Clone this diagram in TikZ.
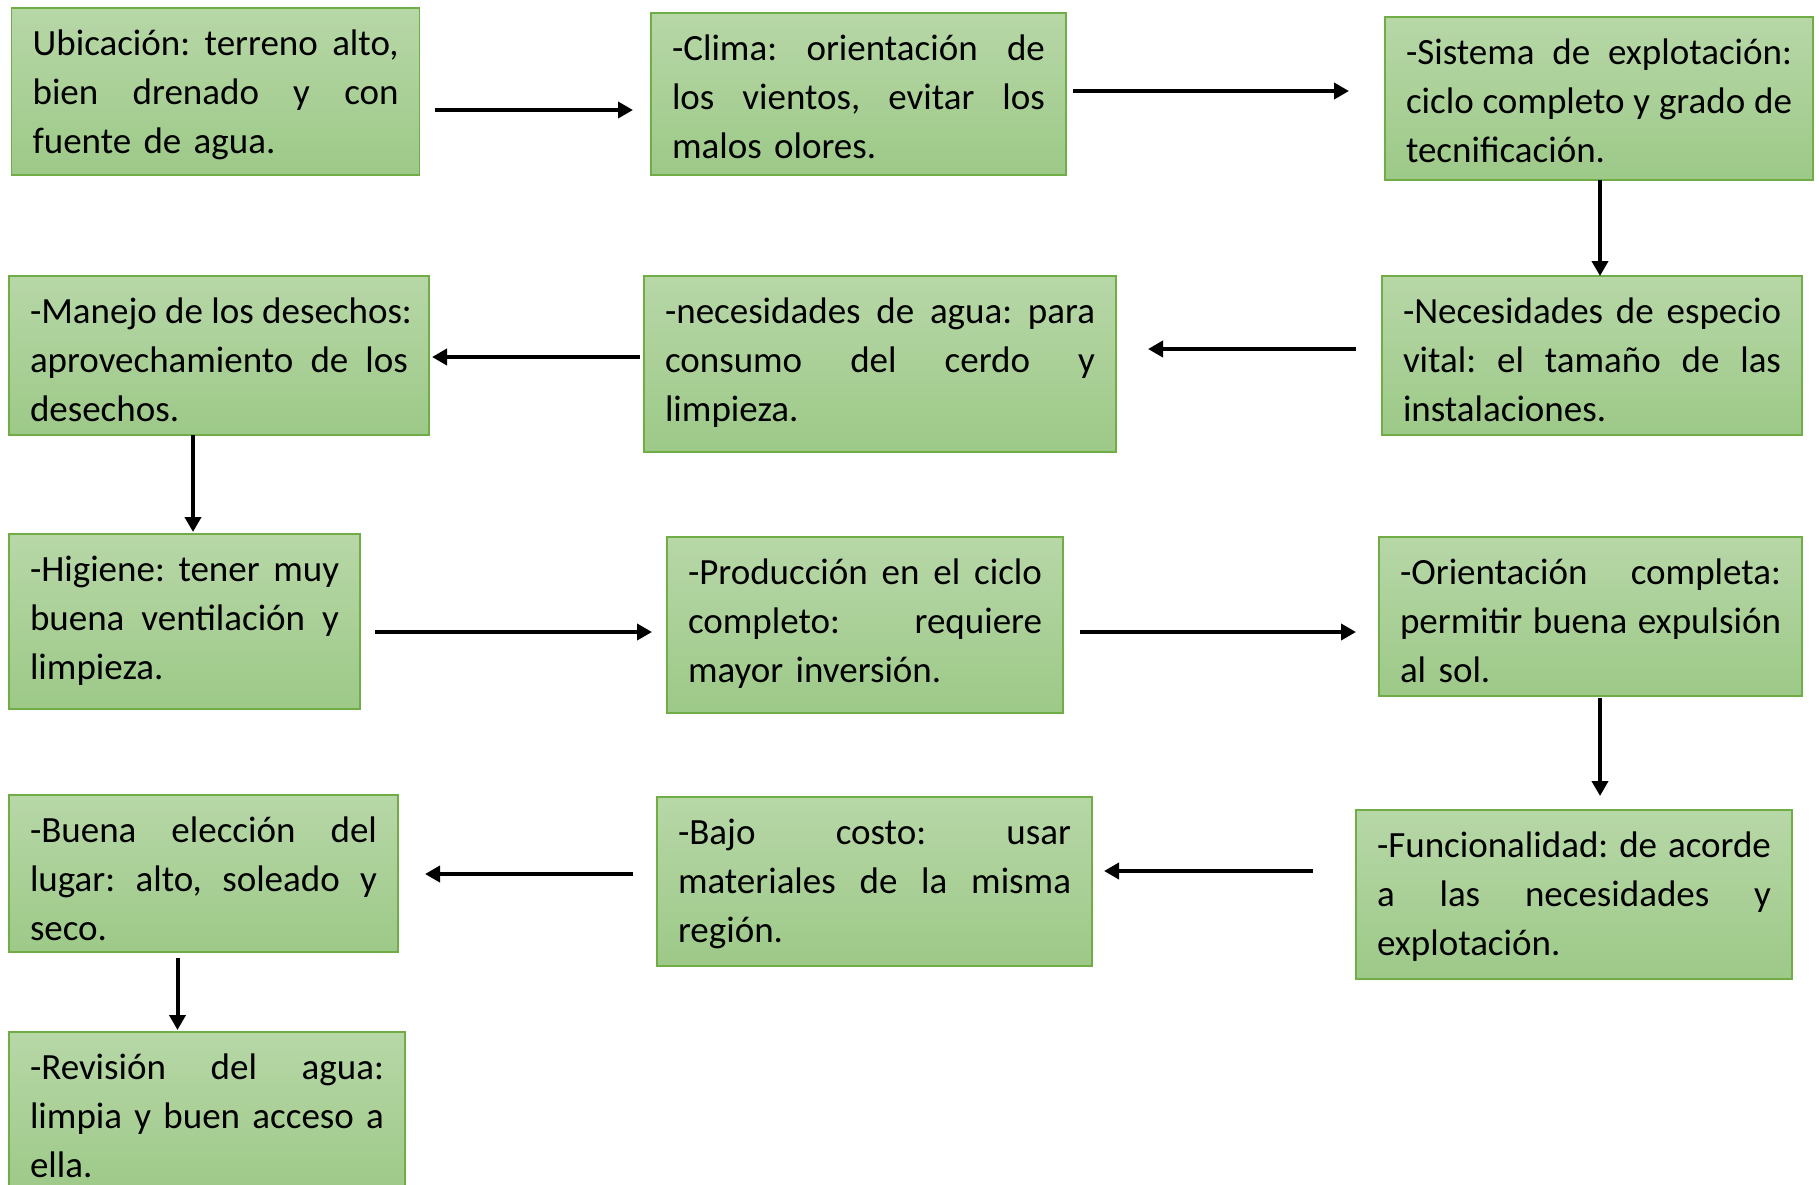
\documentclass[tikz,border=0pt]{standalone}
\usepackage{fontspec}
\setmainfont{Carlito}
\usetikzlibrary{arrows.meta}
\definecolor{gtop}{RGB}{183,215,167}
\definecolor{gbot}{RGB}{157,201,136}
\definecolor{bdr}{RGB}{112,173,71}
\def\W{300pt}
\newcommand\jl[1]{\makebox[\W][s]{\spaceskip=0.226em plus 1fil\relax\xspaceskip=\spaceskip #1}}
\frenchspacing
\begin{document}
\begin{tikzpicture}[x=1pt,y=-1pt,
  bx/.style={rectangle, anchor=north west, draw=bdr, line width=1.3pt, top color=gtop, bottom color=gbot,
    inner xsep=21pt, inner ysep=0pt, outer sep=0pt, text height=47.5pt, align=left,
    font=\fontsize{37}{49}\selectfont\frenchspacing},
  tw/.style={text width=#1pt, execute at begin node={\def\W{#1pt}}},
  arr/.style={-{Triangle[length=15pt,width=16pt]}, line width=4pt}]
\useasboundingbox (0,0) rectangle (1819,1184);
\clip (0,0) rectangle (1819,1184);
\node[bx, tw=366, text depth=119.5pt] (b1) at (11.6,8) {\jl{Ubicación: terreno alto,}\\\jl{bien drenado y con}\\fuente de agua.};
\node[bx, tw=373, text depth=114.5pt] (b2) at (651,13) {\jl{-Clima: orientación de}\\\jl{los vientos, evitar los}\\malos olores.};
\node[bx, tw=386, text depth=115.5pt] (b3) at (1385,17) {\jl{-Sistema de explotación:}\\\jl{ciclo completo y grado de}\\tecnificación.};
\node[bx, tw=378, text depth=111.5pt] (b6) at (1382,276) {\jl{-Necesidades de especio}\\\jl{vital: el tamaño de las}\\instalaciones.};
\node[bx, tw=430, text depth=128.5pt] (b5) at (644,276) {\jl{-necesidades de agua: para}\\\jl{consumo del cerdo y}\\limpieza.};
\node[bx, tw=378, text depth=111.5pt] (b4) at (9,276) {\jl{-Manejo de los desechos:}\\\jl{aprovechamiento de los}\\desechos.};
\node[bx, tw=309, text depth=127.5pt] (b7) at (9,534) {\jl{-Higiene: tener muy}\\\jl{buena ventilación y}\\limpieza.};
\node[bx, tw=354, text depth=128.5pt] (b8) at (667,537) {\jl{-Producción en el ciclo}\\\jl{completo: requiere}\\mayor inversión.};
\node[bx, tw=381, text depth=111.5pt] (b9) at (1379,537) {\jl{-Orientación completa:}\\\jl{permitir buena expulsión}\\al sol.};
\node[bx, tw=394, text depth=121.5pt] (b10) at (1356,810) {\jl{-Funcionalidad: de acorde}\\\jl{a las necesidades y}\\explotación.};
\node[bx, tw=393, text depth=121.5pt] (b11) at (657,797) {\jl{-Bajo costo: usar}\\\jl{materiales de la misma}\\región.};
\node[bx, tw=347, text depth=109.5pt] (b12) at (9,795) {\jl{-Buena elección del}\\\jl{lugar: alto, soleado y}\\seco.};
\node[bx, tw=354, text depth=115.5pt] (b13) at (9,1032) {\jl{-Revisión del agua:}\\\jl{limpia y buen acceso a}\\ella.};
\draw[arr, shorten <=15pt, shorten >=18pt] (b1.east |- 0,110) -- (b2.west |- 0,110);
\draw[arr, shorten <=7pt, shorten >=36pt] (b2.east |- 0,91) -- (b3.west |- 0,91);
\draw[arr] (1600,0 |- b3.south) -- (1600,0 |- b6.north);
\draw[arr, shorten <=26pt, shorten >=32pt] (b6.west |- 0,349) -- (b5.east |- 0,349);
\draw[arr, shorten <=4pt, shorten >=3pt] (b5.west |- 0,357) -- (b4.east |- 0,357);
\draw[arr, shorten >=2pt] (193,0 |- b4.south) -- (193,0 |- b7.north);
\draw[arr, shorten <=15pt, shorten >=15pt] (b7.east |- 0,632) -- (b8.west |- 0,632);
\draw[arr, shorten <=17pt, shorten >=23pt] (b8.east |- 0,632) -- (b9.west |- 0,632);
\draw[arr, shorten <=2pt, shorten >=14pt] (1600,0 |- b9.south) -- (1600,0 |- b10.north);
\draw[arr, shorten <=43pt, shorten >=12pt] (b10.west |- 0,871) -- (b11.east |- 0,871);
\draw[arr, shorten <=24pt, shorten >=27pt] (b11.west |- 0,874) -- (b12.east |- 0,874);
\draw[arr, shorten <=6pt, shorten >=2pt] (177.5,0 |- b12.south) -- (177.5,0 |- b13.north);
\end{tikzpicture}
\end{document}
